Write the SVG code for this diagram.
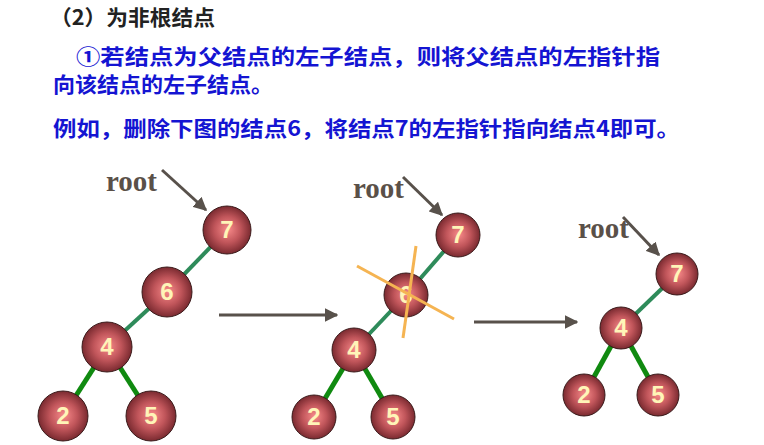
<svg xmlns="http://www.w3.org/2000/svg" width="764" height="445" viewBox="0 0 764 445">
<defs>
<radialGradient id="ball" cx="0.5" cy="0.5" r="0.5" fx="0.52" fy="0.48">
<stop offset="0" stop-color="#f88a8a"/>
<stop offset="0.55" stop-color="#c0555a"/>
<stop offset="1" stop-color="#7a2a30"/>
</radialGradient>
<marker id="ah" viewBox="0 0 10 10" refX="9" refY="5" markerWidth="4.5" markerHeight="4.5" orient="auto" markerUnits="strokeWidth">
<path d="M0,0 L10,5 L0,10 z" fill="#58514b"/>
</marker>
</defs>
<style>
.t{font-family:"Noto Sans CJK SC","Noto Sans",sans-serif;font-weight:bold;font-size:21px}
.blue{fill:#1414d2}
.root{font-family:"Liberation Serif",serif;font-weight:bold;font-size:29px;fill:#5a5048}
.n circle{fill:url(#ball);stroke:#3a1a1a;stroke-width:1}
.n text{font-family:"Liberation Sans",Arial,sans-serif;font-weight:bold;font-size:24px;fill:#fff5b8;text-anchor:middle}
.e1{stroke:#2e8b5a;stroke-width:4}
.e2{stroke:#108a10;stroke-width:5}
.ar{stroke:#58514b;stroke-width:3;fill:none;marker-end:url(#ah)}
.x{stroke:#f5b452;stroke-width:3}
</style>
<rect width="764" height="445" fill="#ffffff"/>
<text class="t" x="50" y="25" fill="#222" textLength="165" lengthAdjust="spacingAndGlyphs">（2）为非根结点</text>
<text class="t blue" x="76" y="64" textLength="584" lengthAdjust="spacingAndGlyphs">①若结点为父结点的左子结点，则将父结点的左指针指</text>
<text class="t blue" x="53" y="92" textLength="220" lengthAdjust="spacingAndGlyphs">向该结点的左子结点。</text>
<text class="t blue" x="53" y="136" textLength="627" lengthAdjust="spacingAndGlyphs">例如，删除下图的结点6，将结点7的左指针指向结点4即可。</text>
<g id="connectors">
<line class="e1" x1="227" y1="230" x2="167" y2="292"/>
<line class="e1" x1="167" y1="292" x2="107" y2="347"/>
<line class="e2" x1="107" y1="347" x2="63" y2="416"/>
<line class="e2" x1="107" y1="347" x2="151" y2="416"/>
<line class="e1" x1="458" y1="235" x2="406" y2="295"/>
<line class="e1" x1="406" y1="295" x2="354" y2="350"/>
<line class="e2" x1="354" y1="350" x2="314" y2="417"/>
<line class="e2" x1="354" y1="350" x2="393" y2="417"/>
<line class="e1" x1="677" y1="274" x2="621" y2="328"/>
<line class="e2" x1="621" y1="328" x2="584" y2="395"/>
<line class="e2" x1="621" y1="328" x2="658" y2="395"/>
<line class="ar" x1="162" y1="170" x2="206" y2="210"/>
<line class="ar" x1="403" y1="177" x2="442" y2="215"/>
<line class="ar" x1="623" y1="217" x2="659" y2="255"/>
<line class="ar" x1="219" y1="315" x2="337" y2="315"/>
<line class="ar" x1="474" y1="322" x2="577" y2="322"/>
</g>
<text class="root" x="106" y="191">root</text>
<text class="root" x="353" y="198">root</text>
<text class="root" x="578" y="238">root</text>
<g id="t1n7" class="n"><circle cx="227" cy="230" r="24"/><text x="227" y="238">7</text></g>
<g id="t1n6" class="n"><circle cx="167" cy="292" r="25"/><text x="167" y="300">6</text></g>
<g id="t1n4" class="n"><circle cx="107" cy="347" r="25"/><text x="107" y="355">4</text></g>
<g id="t1n2" class="n"><circle cx="63" cy="416" r="25"/><text x="63" y="424">2</text></g>
<g id="t1n5" class="n"><circle cx="151" cy="416" r="25"/><text x="151" y="424">5</text></g>
<g id="t2n7" class="n"><circle cx="458" cy="235" r="22"/><text x="458" y="243">7</text></g>
<g id="t2n6" class="n"><circle cx="406" cy="295" r="22"/><text x="406" y="303">6</text></g>
<g id="t2n4" class="n"><circle cx="354" cy="350" r="22"/><text x="354" y="358">4</text></g>
<g id="t2n2" class="n"><circle cx="314" cy="417" r="22"/><text x="314" y="425">2</text></g>
<g id="t2n5" class="n"><circle cx="393" cy="417" r="22"/><text x="393" y="425">5</text></g>
<g id="cross">
<line class="x" x1="357" y1="266" x2="454" y2="319"/>
<line class="x" x1="416" y1="246" x2="403" y2="338"/>
</g>
<g id="t3n7" class="n"><circle cx="677" cy="274" r="21"/><text x="677" y="282">7</text></g>
<g id="t3n4" class="n"><circle cx="621" cy="328" r="21"/><text x="621" y="336">4</text></g>
<g id="t3n2" class="n"><circle cx="584" cy="395" r="21"/><text x="584" y="403">2</text></g>
<g id="t3n5" class="n"><circle cx="658" cy="395" r="21"/><text x="658" y="403">5</text></g>
</svg>
